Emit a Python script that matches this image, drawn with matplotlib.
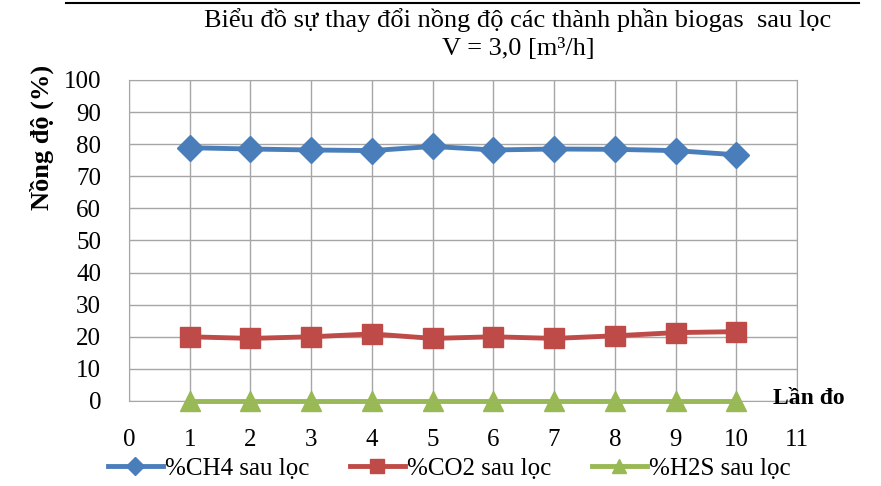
import matplotlib
matplotlib.use("Agg")
import matplotlib.pyplot as plt
from matplotlib.lines import Line2D

lan_do = [1, 2, 3, 4, 5, 6, 7, 8, 9, 10]
ch4 = [78.9, 78.5, 78.2, 78.0, 79.3, 78.2, 78.5, 78.4, 78.0, 76.7]
co2 = [20.0, 19.5, 20.0, 20.9, 19.5, 20.0, 19.5, 20.3, 21.3, 21.6]
h2s = [0, 0, 0, 0, 0, 0, 0, 0, 0, 0]
labels = ["%CH4 sau lọc", "%CO2 sau lọc", "%H2S sau lọc"]

plt.rcParams["font.family"] = ["Liberation Serif", "DejaVu Serif"]

fig = plt.figure(figsize=(8.81, 4.86), dpi=100)
ax = fig.add_axes([0.1464, 0.1749, 0.7583, 0.6605])

ax.plot(lan_do, ch4, color="#4A7EBB", lw=3.5, marker="D", ms=13, label=labels[0])
ax.plot(lan_do, co2, color="#BE4B48", lw=3.5, marker="s", ms=15, label=labels[1])
ax.plot(lan_do, h2s, color="#98B954", lw=3.5, marker="^", ms=14, label=labels[2],
        clip_on=False)

ax.set_xlim(0, 11)
ax.set_ylim(0, 100)
ax.set_xticks(range(0, 12))
ax.set_yticks(range(0, 101, 10))
ax.grid(True, color="#A6A6A6", lw=1)
ax.set_axisbelow(True)
for s in ax.spines.values():
    s.set_color("#A6A6A6")
ax.tick_params(length=0, labelsize=18, colors="black")
ax.tick_params(axis="x", pad=20)
ax.tick_params(axis="y", pad=20)

# axis titles placed freely, like the spreadsheet original
fig.text(0.048, 0.718, "Nồng độ (%)", fontsize=19, fontweight="bold", rotation=90,
         ha="center", va="center")
fig.text(0.918, 0.181, "Lần đo", fontsize=17, fontweight="bold", ha="center", va="center")

fig.text(0.588, 0.958, "Biểu đồ sự thay đổi nồng độ các thành phần biogas  sau lọc",
         fontsize=19, ha="center", va="center")
fig.text(0.588, 0.900, "V = 3,0 [m³/h]", fontsize=19, ha="center", va="center")

fig.add_artist(Line2D([0.075, 0.975], [0.994, 0.994], color="black", lw=1.5,
                      transform=fig.transFigure))

fig.legend(loc="center", bbox_to_anchor=(0.51, 0.035), ncol=3, frameon=False,
           fontsize=18, handlelength=2.2, handletextpad=0.1, columnspacing=1.6,
           markerscale=0.7)

fig.savefig("out.png", dpi=100)
